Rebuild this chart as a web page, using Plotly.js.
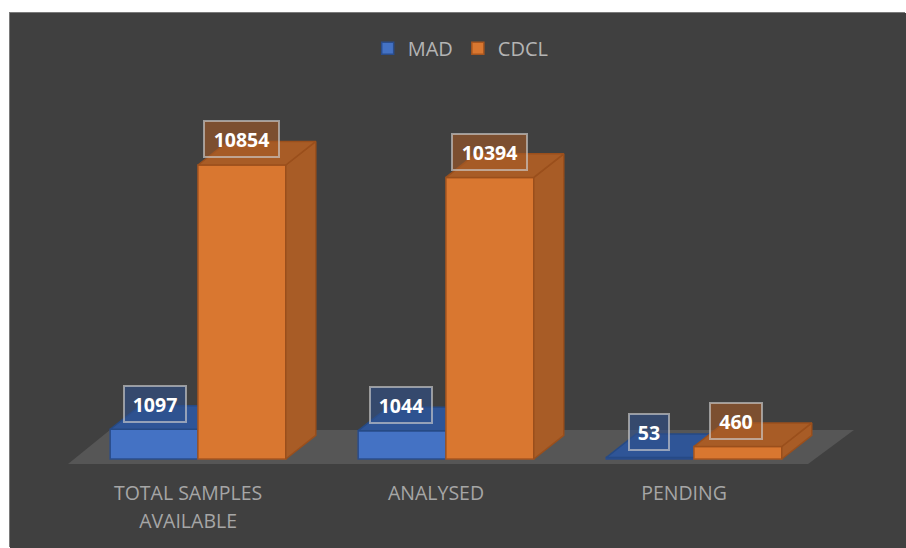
<!DOCTYPE html>
<html>
<head>
<meta charset="utf-8">
<script src="https://cdn.plot.ly/plotly-3.0.1.min.js"></script>
<style>
html,body{margin:0;padding:0;background:#fff;overflow:hidden}
#chart{position:absolute;left:10px;top:13px;width:896px;height:535px;box-shadow:-1px -1px 0 #7a7a7a}
</style>
</head>
<body>
<div id="chart"></div>
<script>
// Data
const categories = ["TOTAL SAMPLES<br>AVAILABLE", "ANALYSED", "PENDING"];
const seriesNames = ["MAD", "CDCL"];
const madValues = [1097, 1044, 53];
const cdclValues = [10854, 10394, 460];

// Geometry in axis units
const BAR_W = 0.354;
const DX = 0.121, DY = 870;
const xRange = [-0.758, 2.855], yRange = [-185, 16464];
const idx = categories.map((_, i) => i);

function faces(vals, offs, kind) {
  const xs = [], ys = [];
  vals.forEach((v, i) => {
    const l = i + offs, r = l + BAR_W;
    if (kind === "top") {
      xs.push(l, r, r + DX, l + DX, l, null);
      ys.push(v, v, v + DY, v + DY, v, null);
    } else {
      xs.push(r, r + DX, r + DX, r, r, null);
      ys.push(0, DY, v + DY, v, 0, null);
    }
  });
  return { x: xs, y: ys };
}
function poly(f, fill, line, xa, ya) {
  return { type: "scatter", mode: "lines", x: f.x, y: f.y, fill: "toself", fillcolor: fill,
    line: { color: line, width: 1.5 }, showlegend: false, hoverinfo: "skip", xaxis: xa, yaxis: ya };
}
const floor = { x: [-0.524, 2.46, 2.645, -0.355, -0.524], y: [-185, -185, 1070, 1070, -185] };

const traces = [
  { type: "scatter", mode: "lines", x: floor.x, y: floor.y, fill: "toself", fillcolor: "#565656",
    line: { width: 0, color: "#565656" }, showlegend: false, hoverinfo: "skip" },
  { type: "bar", name: seriesNames[0], x: idx, y: madValues, offset: -BAR_W, width: BAR_W,
    xaxis: "x2", yaxis: "y2",
    marker: { color: "#4472c4", line: { color: "#2a4d8c", width: 1.5 } } },
  poly(faces(madValues, -BAR_W, "side"), "#2f5597", "#264a85", "x2", "y2"),
  poly(faces(madValues, -BAR_W, "top"), "#2f5597", "#264a85", "x2", "y2"),
  { type: "bar", name: seriesNames[1], x: idx, y: cdclValues, offset: 0, width: BAR_W,
    xaxis: "x3", yaxis: "y3",
    marker: { color: "#d97730", line: { color: "#a8561f", width: 1.5 } } },
  poly(faces(cdclValues, 0, "side"), "#a85c26", "#9a4f1c", "x3", "y3"),
  poly(faces(cdclValues, 0, "top"), "#a85c26", "#9a4f1c", "x3", "y3")
];

// Data labels
const madLabelDx = [1, -1, -1], cdclLabelDx = [0, 0, -1.5];
function label(v, i, side, dx, bg, w) {
  return { x: i + side * BAR_W / 2, y: v, xref: "x", yref: "y", text: "<b>" + v + "</b>", showarrow: false,
    xshift: dx, yshift: 25.5, width: w, height: 32, align: "center", valign: "middle",
    bgcolor: bg, bordercolor: "rgba(205,205,205,0.65)", borderwidth: 2,
    font: { family: "Open Sans, sans-serif", size: 19.5, color: "#ffffff" } };
}
const annotations = [];
madValues.forEach((v, i) => annotations.push(label(v, i, -1, madLabelDx[i], "rgba(47,80,140,0.6)", v > 99 ? 58 : 36)));
cdclValues.forEach((v, i) => annotations.push(label(v, i, 1, cdclLabelDx[i], "rgba(165,90,38,0.6)", v > 9999 ? 71 : 48)));

const tickX = idx.map(i => i - 0.04);
const layout = {
  width: 896, height: 535,
  margin: { l: 0, r: 0, t: 0, b: 84, pad: 0 },
  paper_bgcolor: "#404040", plot_bgcolor: "rgba(0,0,0,0)",
  showlegend: true,
  legend: { orientation: "h", x: 0.503, xanchor: "center", y: 0.922, yanchor: "middle",
    font: { family: "Open Sans, sans-serif", size: 20, color: "#b4b4b4" }, bgcolor: "rgba(0,0,0,0)" },
  xaxis: { range: xRange, tickmode: "array", tickvals: tickX,
    ticktext: categories.map(c => c.split("<br>").map(s => '<span style="font-size:19.5px">' + s + "</span>").join("<br>")),
    ticks: "outside", ticklen: 9, tickcolor: "rgba(0,0,0,0)", showgrid: false, zeroline: false, showline: false,
    tickfont: { family: "Open Sans, sans-serif", size: 21.5, color: "#a6a6a6" }, fixedrange: true },
  yaxis: { range: yRange, visible: false, showgrid: false, zeroline: false, fixedrange: true },
  xaxis2: { range: xRange, overlaying: "x", visible: false, fixedrange: true },
  yaxis2: { range: yRange, overlaying: "y", visible: false, fixedrange: true },
  xaxis3: { range: xRange, overlaying: "x", visible: false, fixedrange: true },
  yaxis3: { range: yRange, overlaying: "y", visible: false, fixedrange: true },
  annotations: annotations
};
Plotly.newPlot("chart", traces, layout, { displayModeBar: false, staticPlot: true });
</script>
</body>
</html>
